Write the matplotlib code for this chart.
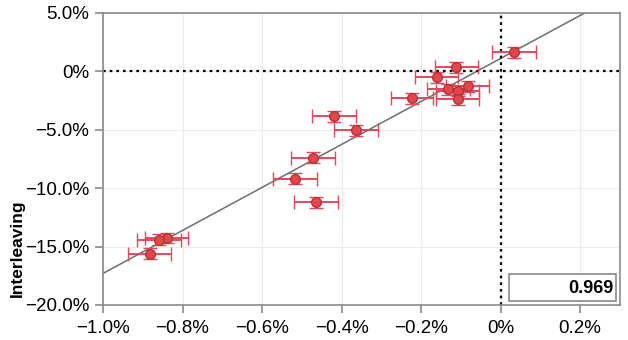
import matplotlib
matplotlib.use("Agg")
import matplotlib.pyplot as plt
from matplotlib.ticker import FuncFormatter, MultipleLocator
from matplotlib.patches import Rectangle

plt.rcParams['font.family'] = ['Liberation Sans', 'DejaVu Sans']

# A/B metric delta (x) vs interleaving delta (y), in percent
ab_delta = [0.033, -0.111, -0.161, -0.083, -0.131, -0.108, -0.108, -0.222,
            -0.419, -0.363, -0.472, -0.517, -0.464, -0.840, -0.860, -0.883]
il_delta = [1.62, 0.34, -0.51, -1.28, -1.54, -1.70, -2.40, -2.30,
            -3.84, -5.03, -7.40, -9.20, -11.20, -14.25, -14.40, -15.60]
ab_err = [0.055, 0.054, 0.054, 0.055, 0.054, 0.054, 0.054, 0.053,
          0.055, 0.055, 0.055, 0.055, 0.055, 0.055, 0.055, 0.055]
il_err = [0.50, 0.47, 0.45, 0.47, 0.45, 0.45, 0.47, 0.47,
          0.47, 0.47, 0.47, 0.47, 0.47, 0.45, 0.45, 0.47]

fit_slope = 18.4
fit_intercept = 1.1
corr_label = "0.969"

fig = plt.figure(figsize=(6.28, 3.40), dpi=100)
ax = fig.add_axes([0.164, 0.103, 0.823, 0.859])

ax.set_xlim(-1.0, 0.3)
ax.set_ylim(-20.0, 5.0)

ax.xaxis.set_major_locator(MultipleLocator(0.2))
ax.yaxis.set_major_locator(MultipleLocator(5.0))
ax.grid(True, color='#ebebeb', linewidth=0.8, zorder=0)


def pct(v, pos):
    if abs(v) < 1e-9:
        return "0%"
    return f"{v:.1f}%".replace("-", "\u2212")


ax.xaxis.set_major_formatter(FuncFormatter(pct))
ax.yaxis.set_major_formatter(FuncFormatter(pct))

# fitted line
xs = [-1.0, 0.3]
ax.plot(xs, [fit_slope * x + fit_intercept for x in xs],
        color='#6e6e6e', linewidth=1.1, zorder=2)

# zero reference lines
ax.axvline(0, color='black', linestyle=(0, (1.2, 1.8)), linewidth=1.6, zorder=2)
ax.axhline(0, color='black', linestyle=(0, (1.2, 1.8)), linewidth=1.6, zorder=2)

ax.errorbar(ab_delta, il_delta, xerr=ab_err, yerr=il_err, fmt='o',
            color='#e6475c', ecolor='#e6475c', elinewidth=1.4, capsize=5,
            capthick=1.4, markersize=7, markerfacecolor='#e0484c',
            markeredgecolor='#b5323a', markeredgewidth=1.0, zorder=3)

for s in ax.spines.values():
    s.set_color('#8a8a8a')
    s.set_linewidth(1.2)

ax.tick_params(axis='both', colors='#8a8a8a', labelcolor='black',
               labelsize=13.5, length=6, width=1.2)
ax.tick_params(axis='x', pad=5)
ax.tick_params(axis='y', pad=4)

ax.set_ylabel("Interleaving", fontsize=12.5, fontweight='bold')
ax.yaxis.set_label_coords(-0.151, 0.195)

# correlation box
box = Rectangle((0.785, 0.015), 0.208, 0.09, transform=ax.transAxes,
                facecolor='white', edgecolor='#8a8a8a', linewidth=1.2, zorder=4)
ax.add_patch(box)
ax.text(0.988, 0.058, corr_label, transform=ax.transAxes, ha='right',
        va='center', fontsize=13, fontweight='bold', zorder=5)

fig.savefig("out.png", dpi=100)
